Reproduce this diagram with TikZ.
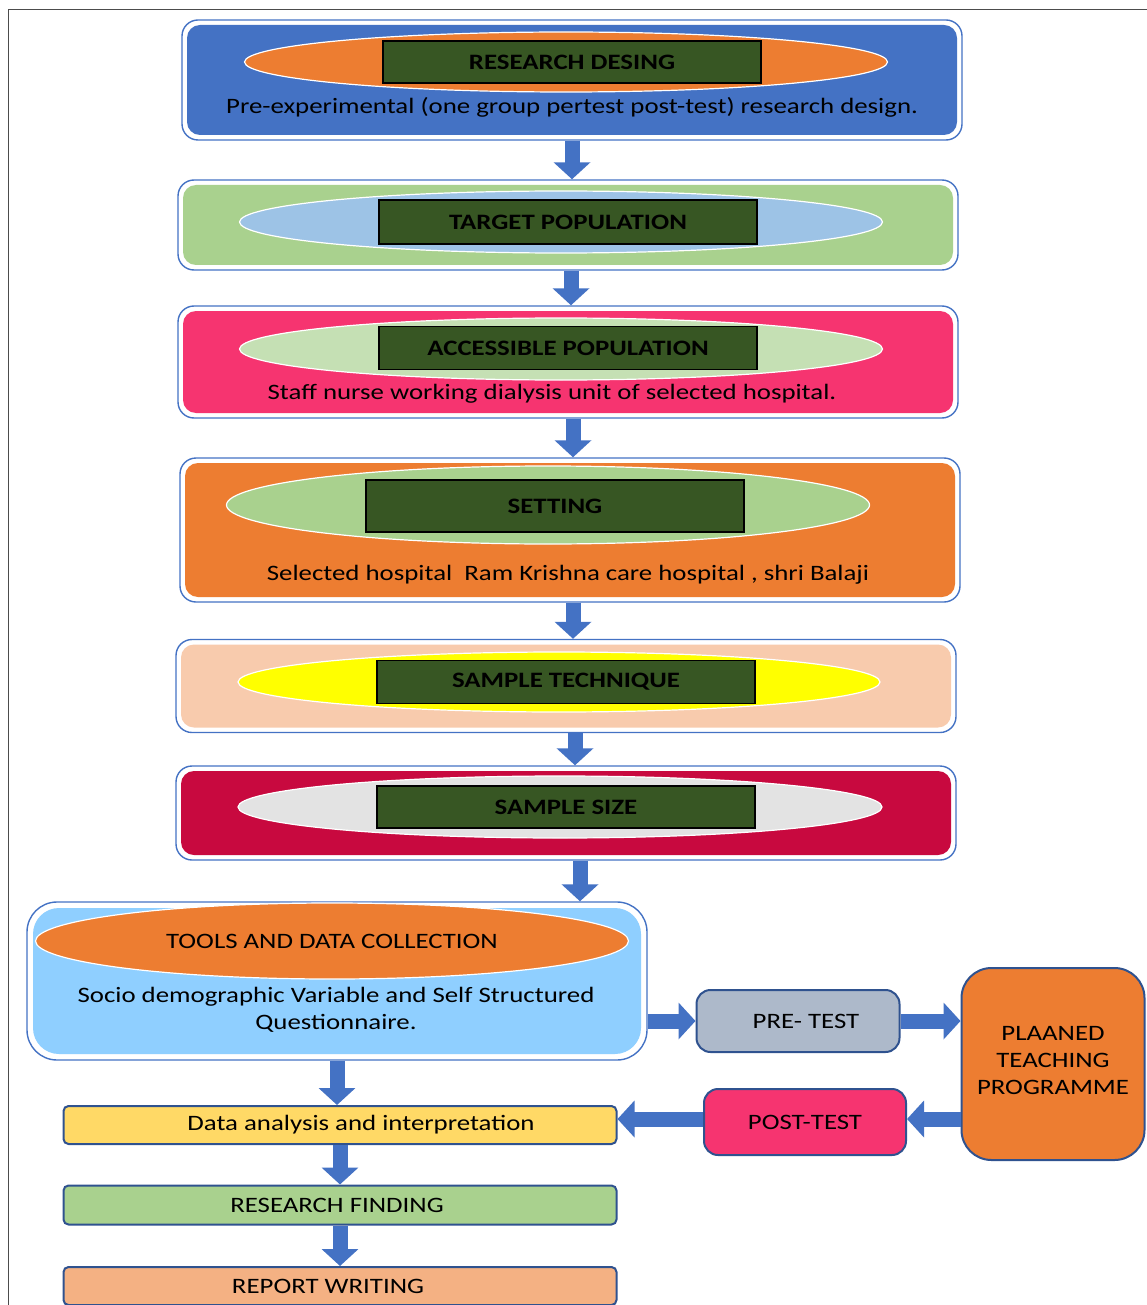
\documentclass[tikz,border=0pt]{standalone}
\usepackage{fontspec}
\setmainfont{Carlito}[FakeStretch=1.22]
\usetikzlibrary{arrows.meta,shapes.geometric}
\definecolor{boxblue}{HTML}{4472C4}
\definecolor{edgeblue}{HTML}{2F528F}
\definecolor{arrowblue}{HTML}{4472C4}
\definecolor{tagGreen}{HTML}{375623}
\definecolor{cOrange}{HTML}{ED7D31}
\definecolor{cLGreen}{HTML}{A9D18E}
\definecolor{cLBlue}{HTML}{9DC3E6}
\definecolor{cPink}{HTML}{F63470}
\definecolor{cPaleGreen}{HTML}{C5E0B4}
\definecolor{cPeach}{HTML}{F8CBAD}
\definecolor{cYellow}{HTML}{FFFF00}
\definecolor{cCrimson}{HTML}{C8093F}
\definecolor{cGrey}{HTML}{E3E3E3}
\definecolor{cSky}{HTML}{8FCFFF}
\definecolor{cSlate}{HTML}{ADB9CA}
\definecolor{cGold}{HTML}{FFD966}
\definecolor{cSalmon}{HTML}{F4B183}
\begin{document}
\begin{tikzpicture}[x=1pt,y=-1pt,
  obox/.style={draw=boxblue,line width=1.4pt,fill=white,rounded corners=16pt,inner sep=0pt},
  ibox/.style={rounded corners=13pt,inner sep=0pt},
  ell/.style={ellipse,draw=white,line width=1.2pt,inner sep=0pt},
  tag/.style={draw=black,line width=1.5pt,fill=tagGreen,inner sep=0pt,font=\fontsize{22}{26}\selectfont\bfseries},
  sub/.style={font=\fontsize{22}{27}\selectfont},
  smallbox/.style={draw=edgeblue,line width=2pt,rounded corners=14pt,inner sep=0pt,font=\fontsize{22}{27}\selectfont,align=center},
  flatbox/.style={draw=edgeblue,line width=2pt,rounded corners=5pt,inner sep=0pt,font=\fontsize{22}{26}\selectfont},
  barrow/.style={draw=arrowblue,line width=15pt,-{Triangle[width=36pt,length=17pt]}}
]
\useasboundingbox (0,0) rectangle (1147,1305);
\draw[gray!60!black,line width=1pt] (8,1305) -- (8,10) -- (1147,10);

% Box 1
\node[obox,minimum width=780,minimum height=120] (b1) at (572,80) {};
\node[ibox,fill=boxblue,minimum width=770,minimum height=110] (b1i) at (b1) {};
\node[ell,fill=cOrange,minimum width=643,minimum height=60] (e1) at (566,62) {};
\node[tag,minimum width=378,minimum height=42] (t1) at (572,62) {RESEARCH DESING};
\node[sub] (s1) at (572,107) {Pre-experimental (one group pertest post-test) research design.};

% Box 2
\node[obox,minimum width=780,minimum height=90] (b2) at (568,225) {};
\node[ibox,fill=cLGreen,minimum width=770,minimum height=80] (b2i) at (b2) {};
\node[ell,fill=cLBlue,minimum width=643,minimum height=62] (e2) at (561,222) {};
\node[tag,minimum width=378,minimum height=44] (t2) at (568,222) {TARGET POPULATION};

% Box 3
\node[obox,minimum width=780,minimum height=112] (b3) at (568,362) {};
\node[ibox,fill=cPink,minimum width=770,minimum height=102] (b3i) at (b3) {};
\node[ell,fill=cPaleGreen,minimum width=643,minimum height=62] (e3) at (561,349) {};
\node[tag,minimum width=378,minimum height=43] (t3) at (568,348) {ACCESSIBLE POPULATION};
\node[sub] (s3) at (552,394) {Staff nurse working dialysis unit of selected hospital.};

% Box 4
\node[obox,minimum width=780,minimum height=144] (b4) at (570,530) {};
\node[ibox,fill=cOrange,minimum width=770,minimum height=134] (b4i) at (b4) {};
\node[ell,fill=cLGreen,minimum width=643,minimum height=78] (e4) at (548,505) {};
\node[tag,minimum width=378,minimum height=52] (t4) at (555,506) {SETTING};
\node[sub] (s4) at (568,575) {Selected hospital\ \ Ram Krishna care hospital , shri Balaji};

% Box 5
\node[obox,minimum width=780,minimum height=93] (b5) at (566,686) {};
\node[ibox,fill=cPeach,minimum width=770,minimum height=83] (b5i) at (b5) {};
\node[ell,fill=cYellow,minimum width=642,minimum height=60] (e5) at (559,682) {};
\node[tag,minimum width=378,minimum height=43] (t5) at (566,682) {SAMPLE TECHNIQUE};

% Box 6
\node[obox,minimum width=780,minimum height=94] (b6) at (566,813) {};
\node[ibox,fill=cCrimson,minimum width=770,minimum height=84] (b6i) at (b6) {};
\node[ell,fill=cGrey,minimum width=644,minimum height=62] (e6) at (560,807) {};
\node[tag,minimum width=378,minimum height=42] (t6) at (566,807) {SAMPLE SIZE};

% Tools box
\node[obox,rounded corners=30pt,minimum width=620,minimum height=158] (b7) at (337,981) {};
\node[ibox,rounded corners=26pt,fill=cSky,minimum width=608,minimum height=146] (b7i) at (b7) {};
\node[ell,fill=cOrange,minimum width=593,minimum height=76,font=\fontsize{22}{26}\selectfont] (e7) at (332,941) {TOOLS AND DATA COLLECTION};
\node[sub,align=center] (s7) at (336,1010) {Socio demographic Variable and Self Structured\\Questionnaire.};

% Side boxes
\node[smallbox,fill=cSlate,minimum width=203,minimum height=62] (pre) at (798,1021) {\hspace*{16pt}PRE- TEST};
\node[smallbox,fill=cOrange,rounded corners=30pt,minimum width=183,minimum height=192] (plan) at (1053,1064) {PLAANED\\TEACHING\\PROGRAMME\\[-19pt]};
\node[smallbox,fill=cPink,minimum width=202,minimum height=66] (post) at (805,1122) {POST-TEST};

% Bottom chain
\node[flatbox,fill=cGold,minimum width=553,minimum height=38] (data) at (340,1125) {\hspace*{42pt}Data analysis and interpretation};
\node[flatbox,fill=cLGreen,minimum width=553,minimum height=39] (find) at (340,1205) {RESEARCH FINDING\hspace*{6pt}};
\node[flatbox,fill=cSalmon,minimum width=553,minimum height=38] (rep) at (340,1286) {REPORT WRITING\hspace*{24pt}};

% Arrows
\draw[barrow] (b1.south) -- (b1.south |- b2.north);
\draw[barrow] ([xshift=3pt]b2.south) -- ([xshift=3pt]b2.south |- b3.north);
\draw[barrow] ([xshift=5pt]b3.south) -- ([xshift=5pt]b3.south |- b4.north);
\draw[barrow] ([xshift=3pt]b4.south) -- ([xshift=3pt]b4.south |- b5.north);
\draw[barrow] ([xshift=9pt]b5.south) -- ([xshift=9pt]b5.south |- b6.north);
\draw[barrow] ([xshift=14pt]b6.south) -- ([xshift=14pt]b6.south |- b7.north);
\draw[barrow] (pre.west -| b7.east) -- (pre.west);
\draw[barrow] (pre.east) -- (pre.east -| plan.west);
\draw[barrow] ([yshift=3pt]post.east -| plan.west) -- ([yshift=3pt]post.east);
\draw[barrow] ([yshift=3pt]post.west) -- ([yshift=3pt]post.west -| data.east);
\draw[barrow] (b7.south) -- (b7.south |- data.north);
\draw[barrow] (data.south) -- (data.south |- find.north);
\draw[barrow] (find.south) -- (find.south |- rep.north);
\end{tikzpicture}
\end{document}
